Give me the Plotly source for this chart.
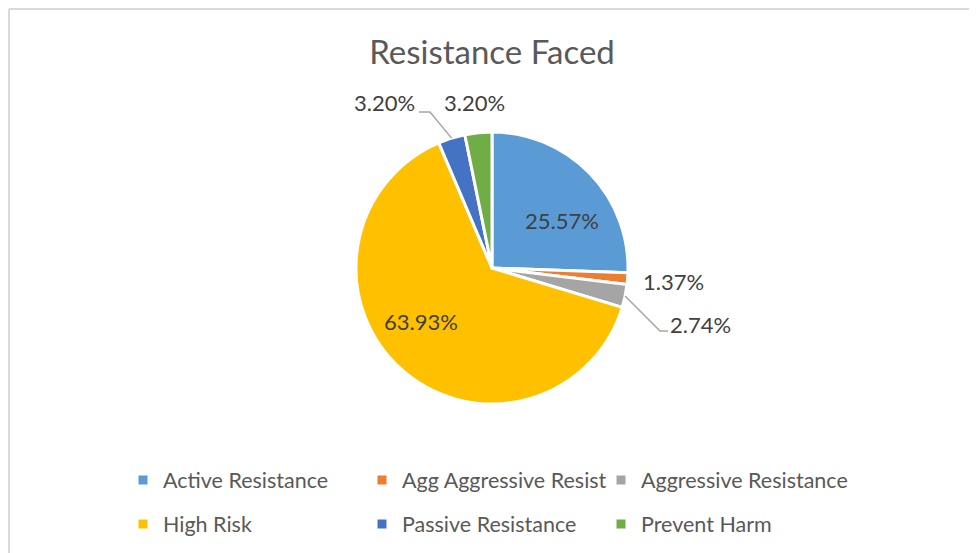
import math
import plotly.graph_objects as go

# ---- data ----
categories = ["Active Resistance", "Agg Aggressive Resist", "Aggressive Resistance",
              "High Risk", "Passive Resistance", "Prevent Harm"]
values = [25.57, 1.37, 2.74, 63.93, 3.20, 3.20]
labels = ["25.57%", "1.37%", "2.74%", "63.93%", "3.20%", "3.20%"]
colors = ["#5B9BD5", "#ED7D31", "#A5A5A5", "#FFC000", "#4472C4", "#70AD47"]
title_text = "Resistance Faced"

# ---- layout geometry (screen pixels; page body has an 8px margin) ----
OFF = 8
W, H = 977 - OFF, 553 - OFF
ML, MR, MT, MB = 110, 102, 0, 0
PW, PH = W - ML - MR, H - MT - MB


def px(x):
    return (x - OFF - ML) / PW


def py(y):
    return (H - MB - (y - OFF)) / PH


CX, CY, R = 492, 268, 136
FONT = "Lato, 'Noto Sans', sans-serif"

fig = go.Figure()
fig.add_trace(go.Pie(
    labels=categories, values=values, sort=False, direction="clockwise", rotation=0,
    marker=dict(colors=colors, line=dict(color="white", width=3)),
    textinfo="none", hoverinfo="label+value", showlegend=False,
    domain=dict(x=[px(CX - R), px(CX + R)], y=[py(CY + R), py(CY - R)]),
))

# legend entries (square markers), one small legend per entry in a 3x2 grid
legend_cols = [123, 362, 601]
legend_rows = [480, 524]
legend_layout = {}
for i, (c, col) in enumerate(zip(categories, colors)):
    key = "legend" if i == 0 else f"legend{i + 1}"
    fig.add_trace(go.Scatter(
        x=[None], y=[None], mode="markers", name=c,
        marker=dict(symbol="square", size=9, color=col),
        legend=key, showlegend=True,
    ))
    legend_layout[key] = dict(
        x=px(legend_cols[i % 3]), y=py(legend_rows[i // 3]),
        orientation="h", xanchor="left", yanchor="middle",
        font=dict(family=FONT, size=21.5, color="#595959"),
        bgcolor="rgba(0,0,0,0)", itemclick=False, itemdoubleclick=False)

# slice angle helpers (clockwise from 12 o'clock)
total = sum(values)
cum = 0
mids = []
for v in values:
    mids.append((cum + v / 2) / total * 2 * math.pi)
    cum += v


def edge(i, r=R):
    a = mids[i]
    return CX + r * math.sin(a), CY - r * math.cos(a)


label_pos = [(562, 220), (673, 281), (700, 324), (421, 321), (384, 103), (474, 103)]
annotations = []
for lab, (lx, ly) in zip(labels, label_pos):
    annotations.append(dict(x=px(lx), y=py(ly), xref="paper", yref="paper", text=lab,
                            showarrow=False, xanchor="center", yanchor="middle",
                            font=dict(family=FONT, size=22, color="#404040")))

shapes = []
# leader lines for 2.74% and the passive 3.20%
x0, y0 = edge(2)
shapes.append(dict(type="path", xref="paper", yref="paper",
                   path=f"M {px(x0)},{py(y0)} L {px(660)},{py(331)} L {px(668)},{py(331)}",
                   line=dict(color="#A6A6A6", width=1.5)))
x0, y0 = edge(4)
shapes.append(dict(type="path", xref="paper", yref="paper",
                   path=f"M {px(x0)},{py(y0)} L {px(430)},{py(112)} L {px(419)},{py(112)}",
                   line=dict(color="#A6A6A6", width=1.5)))

# chart frame
shapes.append(dict(type="line", xref="paper", yref="paper", x0=px(9), x1=px(9), y0=py(9), y1=py(553),
                   line=dict(color="#D9D9D9", width=2)))
shapes.append(dict(type="line", xref="paper", yref="paper", x0=px(9), x1=px(976), y0=py(9), y1=py(9),
                   line=dict(color="#D9D9D9", width=2)))
shapes.append(dict(type="line", xref="paper", yref="paper", x0=px(975), x1=px(975), y0=py(9), y1=py(553),
                   line=dict(color="#D9D9D9", width=2)))

fig.update_layout(
    width=W, height=H, margin=dict(l=ML, r=MR, t=MT, b=MB),
    paper_bgcolor="white", plot_bgcolor="white",
    title=dict(text=title_text, x=(492 - OFF) / W, xanchor="center", y=1 - (52 - OFF) / H,
               yanchor="middle", xref="container", yref="container",
               font=dict(family=FONT, size=33, color="#595959")),
    xaxis=dict(visible=False), yaxis=dict(visible=False),
    annotations=annotations, shapes=shapes,
    **legend_layout,
)

fig.write_html("out.html")
